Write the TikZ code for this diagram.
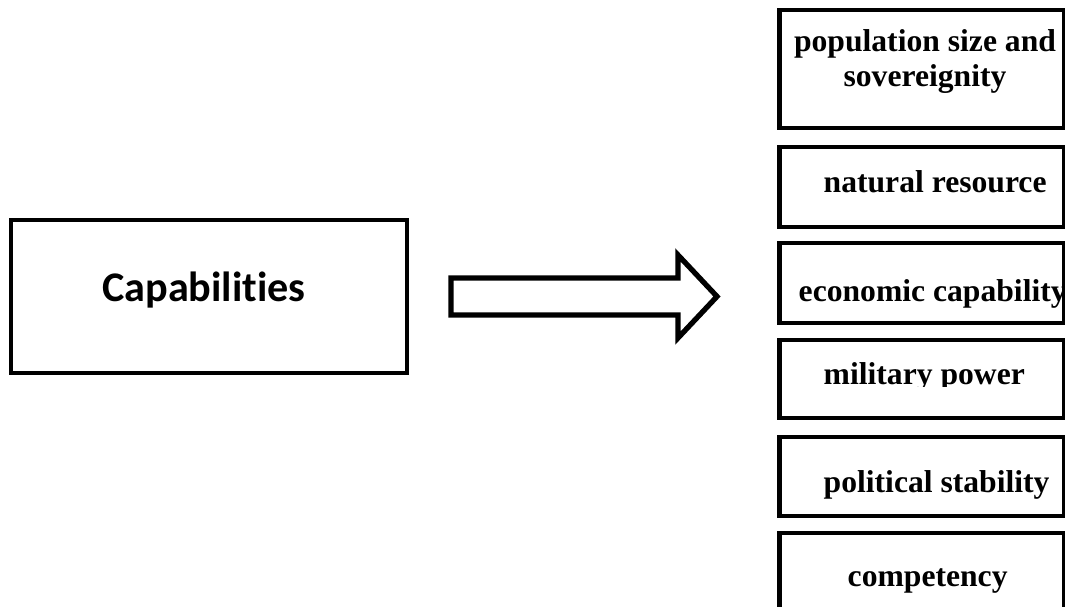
\documentclass[tikz,border=0pt]{standalone}
\usepackage{fontspec}
\setmainfont{Liberation Serif}
\newfontfamily\capfont[Ligatures=NoCommon]{Carlito}
\tikzset{
  mainbox/.style={draw, line width=1.3pt, minimum width=3.96cm, minimum height=1.53cm, inner sep=0pt},
  factorbox/.style={draw, line width=1.25pt, minimum width=2.85cm, minimum height=#1, inner sep=0pt},
  factortext/.style={font=\fontsize{9}{10}\selectfont\bfseries, anchor=base west, inner sep=0pt},
  bigarrow/.style={draw, line width=1.5pt, fill=white, line join=miter}
}

\begin{document}
\begin{tikzpicture}
\useasboundingbox (0,0) rectangle (10.65,6.07);
\clip (0,0) rectangle (10.65,6.07);

% ---------- left box ----------
\node[mainbox] (cap) at (2.09,3.105) {};
\node[font=\capfont\bfseries\fontsize{12}{14}\selectfont, anchor=base, inner sep=0pt] (captext) at (2.04,3.05) {Capabilities};

% ---------- block arrow ----------
\coordinate (tail) at (4.51,3.105);
\coordinate (tip) at (7.17,3.105);
\draw[bigarrow] (tail) ++(0,-0.185) -- ++(2.27,0) -- ++(0,-0.23) -- (tip)
  -- (6.78,3.52) -- ++(0,-0.23) -- (4.51,3.29) -- cycle;

% ---------- factor boxes ----------
\node[factorbox=1.18cm] (pop) at (9.22,5.38) {};
\node[factorbox=0.80cm] (nat) at (9.22,4.20) {};
\node[factorbox=0.80cm] (eco) at (9.22,3.24) {};
\node[factorbox=0.78cm] (mil) at (9.22,2.28) {};
\node[factorbox=0.79cm] (pol) at (9.22,1.305) {};
\node[factorbox=0.80cm] (com) at (9.22,0.34) {};

\node[font=\fontsize{9}{10}\selectfont\bfseries, align=center, anchor=north, inner sep=0pt] (poptext) at (9.25,5.785)
  {population size and\\sovereignity};
\node[factortext] (nattext) at (8.23,4.14) {natural resource};
\node[factortext] (ecotext) at (7.98,3.05) {economic capability};
\begin{scope}
  \clip (7.8,2.20) rectangle (10.65,2.67);
  \node[factortext] (miltext) at (8.23,2.22) {military power};
\end{scope}
\node[factortext] (poltext) at (8.23,1.14) {political stability};
\node[factortext] (comtext) at (8.47,0.20) {competency};

\end{tikzpicture}
\end{document}
